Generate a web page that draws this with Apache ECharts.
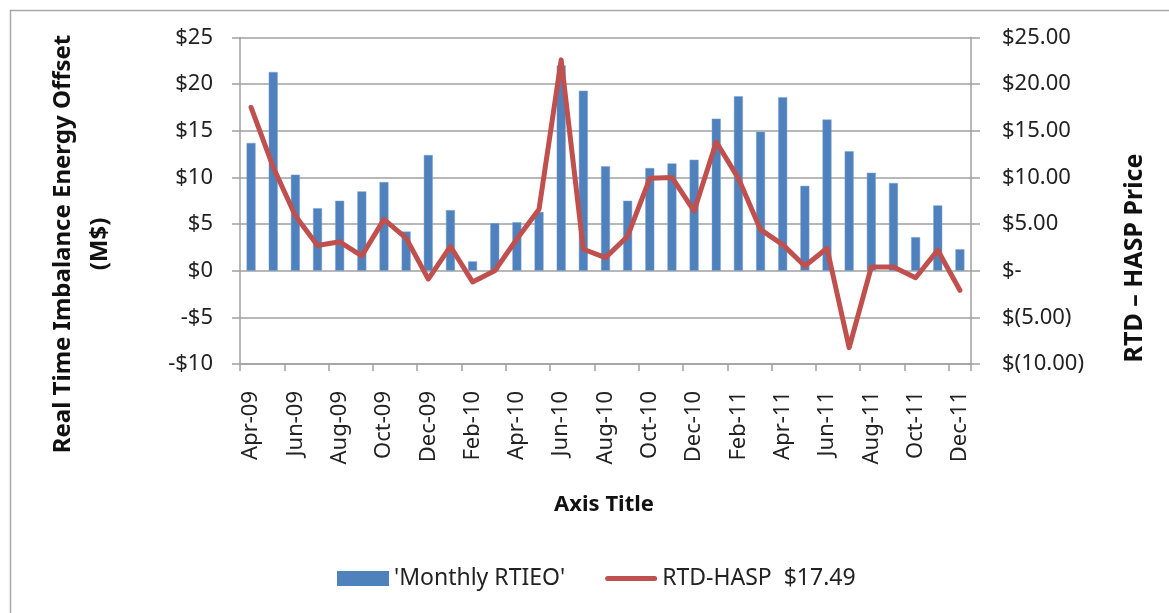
<!DOCTYPE html>
<html>
<head>
<meta charset="utf-8">
<script src="https://cdn.jsdelivr.net/npm/echarts@6/dist/echarts.min.js"></script>
<style>
html,body{margin:0;padding:0;background:#fff;}
#chart{width:1169px;height:613px;}
</style>
</head>
<body>
<div id="chart"></div>
<script>
const categories = ['Apr-09','May-09','Jun-09','Jul-09','Aug-09','Sep-09','Oct-09','Nov-09','Dec-09',
  'Jan-10','Feb-10','Mar-10','Apr-10','May-10','Jun-10','Jul-10','Aug-10','Sep-10','Oct-10','Nov-10','Dec-10',
  'Jan-11','Feb-11','Mar-11','Apr-11','May-11','Jun-11','Jul-11','Aug-11','Sep-11','Oct-11','Nov-11','Dec-11'];
const monthlyRTIEO = [13.7,21.3,10.3,6.7,7.5,8.5,9.5,4.2,12.4,
  6.5,1.0,5.1,5.2,6.3,22.0,19.3,11.2,7.5,11.0,11.5,11.9,
  16.3,18.7,14.9,18.6,9.1,16.2,12.8,10.5,9.4,3.6,7.0,2.3];
const rtdHasp = [17.5,11.1,5.9,2.7,3.1,1.6,5.5,3.5,-0.9,
  2.6,-1.2,0.0,3.4,6.6,22.6,2.3,1.4,3.7,9.9,10.0,6.4,
  13.8,9.9,4.4,2.8,0.5,2.4,-8.25,0.4,0.4,-0.75,2.2,-2.1];
const seriesNames = ["'Monthly RTIEO'", 'RTD-HASP  $17.49'];
const leftTickLabels = {25:'$25',20:'$20',15:'$15',10:'$10',5:'$5',0:'$0','-5':'-$5','-10':'-$10'};
const rightTickLabels = {25:'$25.00',20:'$20.00',15:'$15.00',10:'$10.00',5:'$5.00',0:'$-','-5':'$(5.00)','-10':'$(10.00)'};

const FONT = 'Noto Sans';
const chart = echarts.init(document.getElementById('chart'));
chart.setOption({
  animation: false,
  backgroundColor: '#fff',
  textStyle: {fontFamily: FONT},
  grid: {left: 240, right: 198, top: 37.5, bottom: 249, containLabel: false},
  legend: {
    left: 332, top: 562,
    itemWidth: 52, itemHeight: 15, itemGap: 40,
    textStyle: {fontFamily: FONT, fontSize: 23, color: '#222'},
    data: [
      {name: seriesNames[0], icon: 'rect', itemStyle: {color: '#4F81BD', borderWidth: 0}},
      {name: seriesNames[1], icon: 'path://M2.5,0 L49.5,0 A2.5,2.5 0 0 1 49.5,5 L2.5,5 A2.5,2.5 0 0 1 2.5,0 Z',
        itemStyle: {color: '#C0504D', borderWidth: 0}}
    ]
  },
  xAxis: {
    type: 'category',
    data: categories,
    axisLine: {lineStyle: {color: '#a0a0a0', width: 1.5}, onZero: false},
    axisTick: {show: true, interval: 1, length: 7, lineStyle: {color: '#a0a0a0', width: 1.5}},
    axisLabel: {interval: 1, rotate: 90, fontFamily: FONT, fontSize: 22, color: '#222', margin: 27},
    splitLine: {show: false}
  },
  yAxis: [{
    type: 'value', min: -10, max: 25, interval: 5,
    axisLine: {show: true, lineStyle: {color: '#a0a0a0', width: 1.5}},
    axisTick: {show: true, length: 8, lineStyle: {color: '#a0a0a0', width: 1.5}},
    axisLabel: {fontFamily: FONT, fontSize: 22, color: '#222', margin: 27,
      formatter: v => leftTickLabels[v]},
    splitLine: {lineStyle: {color: '#a0a0a0', width: 1.5}}
  }, {
    type: 'value', min: -10, max: 25, interval: 5, position: 'right',
    axisLine: {show: true, lineStyle: {color: '#a0a0a0', width: 1.5}},
    axisTick: {show: true, length: 9, lineStyle: {color: '#a0a0a0', width: 1.5}},
    axisLabel: {fontFamily: FONT, fontSize: 22, color: '#222', margin: 31,
      formatter: v => rightTickLabels[v]},
    splitLine: {show: false}
  }],
  series: [{
    name: seriesNames[0], type: 'bar', yAxisIndex: 0,
    data: monthlyRTIEO, barWidth: 9,
    itemStyle: {color: '#4F81BD', borderColor: '#7fa3d1', borderWidth: 0.5}
  }, {
    name: seriesNames[1], type: 'line', yAxisIndex: 1,
    data: rtdHasp, symbol: 'none', showSymbol: false,
    lineStyle: {color: '#C0504D', width: 5, cap: 'round', join: 'round'},
    itemStyle: {color: '#C0504D'}
  }],
  graphic: [
    {type: 'rect', left: 8, top: 8, shape: {width: 1200, height: 700}, style: {fill: 'none', stroke: '#a8a8a8', lineWidth: 1.5}, z: -1},
    {type: 'text', x: 63, y: 244, rotation: Math.PI/2,
      style: {text: 'Real Time Imbalance Energy Offset', fontFamily: FONT, fontWeight: 'bold', fontSize: 24, fill: '#111', align: 'center', verticalAlign: 'middle'}},
    {type: 'text', x: 100, y: 244, rotation: Math.PI/2,
      style: {text: '(M$)', fontFamily: FONT, fontWeight: 'bold', fontSize: 24, fill: '#111', align: 'center', verticalAlign: 'middle'}},
    {type: 'text', x: 1135, y: 258, rotation: Math.PI/2,
      style: {text: 'RTD – HASP Price', fontFamily: FONT, fontWeight: 'bold', fontSize: 25, fill: '#111', align: 'center', verticalAlign: 'middle'}},
    {type: 'text', x: 604, y: 505,
      style: {text: 'Axis Title', fontFamily: FONT, fontWeight: 'bold', fontSize: 22, fill: '#111', align: 'center', verticalAlign: 'middle'}}
  ]
});
</script>
</body>
</html>
